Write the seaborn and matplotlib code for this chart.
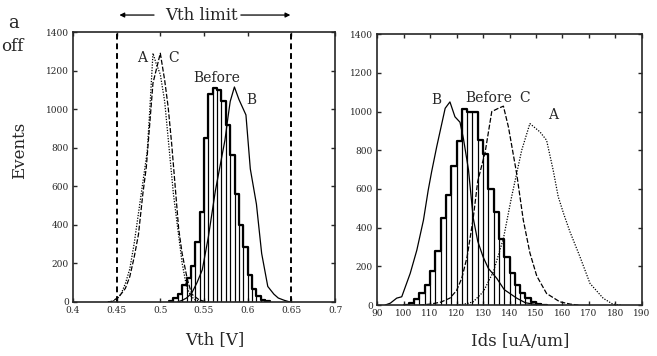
import numpy as np
import pandas as pd
import matplotlib
matplotlib.use("Agg")
import matplotlib.pyplot as plt
import seaborn as sns

# ---- left panel: Vth distributions ----
vth_bin_edges = [0.510, 0.515, 0.520, 0.525, 0.530, 0.535, 0.540, 0.545, 0.550, 0.555,
                 0.560, 0.565, 0.570, 0.575, 0.580, 0.585, 0.590, 0.595, 0.600, 0.605,
                 0.610, 0.615, 0.620, 0.625]
vth_before = [5, 20, 40, 90, 125, 185, 310, 465, 850, 1080, 1110, 1100, 1040, 920, 760,
              560, 400, 285, 140, 65, 30, 12, 5]

vth_a_x = [0.44, 0.445, 0.45, 0.455, 0.46, 0.465, 0.47, 0.475, 0.48, 0.485, 0.488, 0.4916,
           0.495, 0.50, 0.505, 0.51, 0.515, 0.52, 0.525, 0.53, 0.535, 0.54, 0.545, 0.55]
vth_a_y = [0, 3, 12, 40, 95, 170, 300, 460, 620, 780, 1000, 1290, 1240, 1180, 1040, 800,
           560, 380, 200, 80, 30, 10, 3, 0]
vth_c_x = [0.44, 0.445, 0.45, 0.455, 0.46, 0.465, 0.47, 0.475, 0.48, 0.484, 0.4916, 0.50,
           0.505, 0.509, 0.513, 0.517, 0.521, 0.525, 0.531, 0.536, 0.544, 0.55, 0.555]
vth_c_y = [0, 3, 18, 40, 70, 130, 230, 350, 560, 700, 1135, 1290, 1150, 1010, 820, 600,
           380, 250, 115, 40, 12, 3, 0]
vth_b_x = [0.52, 0.525, 0.53, 0.536, 0.542, 0.548, 0.555, 0.563, 0.569, 0.574, 0.5775,
           0.58, 0.5848, 0.59, 0.598, 0.603, 0.61, 0.616, 0.623, 0.63, 0.635, 0.642, 0.648]
vth_b_y = [0, 8, 20, 46, 100, 166, 337, 576, 720, 840, 960, 1040, 1115, 1050, 970, 690,
           507, 251, 80, 40, 20, 8, 0]

# ---- right panel: Ids distributions ----
ids_bin_edges = [100, 102, 104, 106, 108, 110, 112, 114, 116, 118, 120, 122, 124, 126,
                 128, 130, 132, 134, 136, 138, 140, 142, 144, 146, 148, 150, 152, 154]
ids_before = [3, 10, 30, 60, 105, 175, 280, 450, 570, 720, 850, 1015, 1000, 1000, 855,
              780, 600, 480, 340, 250, 165, 105, 60, 35, 15, 8, 3]

ids_a_x = [120, 124, 126.3, 130.1, 133.9, 137.7, 140.8, 144.6, 147.7, 151.5, 154, 156.5,
           158.4, 160.5, 162.8, 166.6, 170.4, 175.4, 179, 182]
ids_a_y = [0, 8, 17, 69, 172, 344, 560, 800, 938, 895, 852, 697, 560, 470, 380, 250, 112,
           35, 5, 0]
ids_c_x = [106, 110, 114, 117.5, 120, 122, 124, 126.3, 128, 130.8, 133.3, 135.5, 137.7,
           139.6, 142.7, 145.2, 147.7, 150.3, 154, 159, 163, 166]
ids_c_y = [0, 5, 15, 36, 75, 140, 250, 450, 640, 790, 1000, 1015, 1028, 920, 680, 440,
           270, 150, 60, 17, 5, 0]
ids_b_x = [93, 95, 97.4, 99.3, 102.5, 105, 107.5, 109.3, 110.6, 112.5, 115.7, 117.5,
           119.4, 121.3, 122.6, 124.5, 126.3, 128, 130, 132, 135.2, 138, 142.7, 146, 150, 154]
ids_b_y = [0, 10, 36, 43, 164, 284, 439, 594, 690, 818, 1017, 1050, 973, 945, 860, 700,
           450, 330, 250, 190, 138, 80, 36, 12, 3, 0]

sns.set_style("ticks")
plt.rcParams['font.family'] = ['DejaVu Serif']
plt.rcParams['axes.linewidth'] = 1.2

fig = plt.figure(figsize=(6.57, 3.56), dpi=100)
ax1 = fig.add_axes([0.111, 0.152, 0.399, 0.758])
ax2 = fig.add_axes([0.574, 0.143, 0.403, 0.761])


def draw_hist(ax, edges, counts):
    centers = [(a + b) / 2 for a, b in zip(edges[:-1], edges[1:])]
    df = pd.DataFrame({"x": centers, "n": counts})
    sns.histplot(data=df, x="x", weights="n", bins=list(edges), element="bars",
                 fill=False, color="k", linewidth=0.8, ax=ax)
    sns.histplot(data=df, x="x", weights="n", bins=list(edges), element="step",
                 fill=False, color="k", linewidth=1.6, ax=ax)


# left
draw_hist(ax1, vth_bin_edges, vth_before)
sns.lineplot(x=vth_a_x, y=vth_a_y, color="k", linestyle=(0, (1, 1.2)), linewidth=0.9, ax=ax1)
sns.lineplot(x=vth_c_x, y=vth_c_y, color="k", linestyle=(0, (4, 1.5)), linewidth=0.9, ax=ax1)
sns.lineplot(x=vth_b_x, y=vth_b_y, color="k", linewidth=0.9, ax=ax1)
for v in (0.45, 0.65):
    ax1.axvline(v, color="k", linestyle=(0, (3, 2)), linewidth=1.4)

ax1.set_xlim(0.4, 0.7)
ax1.set_ylim(0, 1400)
ax1.set_xticks([0.4, 0.45, 0.5, 0.55, 0.6, 0.65, 0.7])
ax1.set_xticklabels(["0.4", "0.45", "0.5", "0.55", "0.6", "0.65", "0.7"])
ax1.set_yticks(range(0, 1401, 200))

ax1.text(0.4786, 1263, "A", fontsize=10, ha="center", va="center")
ax1.text(0.5149, 1263, "C", fontsize=10, ha="center", va="center")
ax1.text(0.5645, 1163, "Before", fontsize=10, ha="center", va="center")
ax1.text(0.6046, 1047, "B", fontsize=10, ha="center", va="center")

# Vth limit arrows above the left panel
trans = ax1.get_xaxis_transform()
ax1.text(0.5475, 1.063, "Vth limit", transform=trans, fontsize=12, ha="center",
         va="center", clip_on=False)
ax1.annotate("", xy=(0.450, 1.063), xytext=(0.496, 1.063), xycoords=trans,
             textcoords=trans, arrowprops=dict(arrowstyle="-|>", color="k", lw=0.9,
                                               mutation_scale=7))
ax1.annotate("", xy=(0.652, 1.063), xytext=(0.589, 1.063), xycoords=trans,
             textcoords=trans, arrowprops=dict(arrowstyle="-|>", color="k", lw=0.9,
                                               mutation_scale=7))

# right
draw_hist(ax2, ids_bin_edges, ids_before)
sns.lineplot(x=ids_a_x, y=ids_a_y, color="k", linestyle=(0, (1, 1.2)), linewidth=0.9, ax=ax2)
sns.lineplot(x=ids_c_x, y=ids_c_y, color="k", linestyle=(0, (4, 1.5)), linewidth=0.9, ax=ax2)
sns.lineplot(x=ids_b_x, y=ids_b_y, color="k", linewidth=0.9, ax=ax2)

ax2.set_xlim(90, 190)
ax2.set_ylim(0, 1400)
ax2.set_xticks(range(90, 191, 10))
ax2.set_yticks(range(0, 1401, 200))

ax2.text(112.5, 1059, "B", fontsize=10, ha="center", va="center")
ax2.text(132.3, 1069, "Before", fontsize=10, ha="center", va="center")
ax2.text(145.8, 1069, "C", fontsize=10, ha="center", va="center")
ax2.text(156.3, 981, "A", fontsize=10, ha="center", va="center")

for ax in (ax1, ax2):
    ax.set_xlabel("")
    ax.set_ylabel("")
    ax.tick_params(direction="in", top=True, right=True, length=3, width=1,
                   labelsize=6.5, pad=3)
    for s in ax.spines.values():
        s.set_visible(True)
        s.set_linewidth(1.2)

fig.text(0.030, 0.579, "Events", rotation=90, fontsize=12, ha="center", va="center")
fig.text(0.327, 0.045, "Vth [V]", fontsize=12, ha="center", va="center")
fig.text(0.792, 0.040, "Ids [uA/um]", fontsize=12, ha="center", va="center")

# fragments of surrounding page text
fig.text(0.020, 0.935, "a", fontsize=13, ha="center", va="center")
fig.text(0.002, 0.868, "off", fontsize=12, ha="left", va="center")

fig.savefig("out.png", dpi=100)
